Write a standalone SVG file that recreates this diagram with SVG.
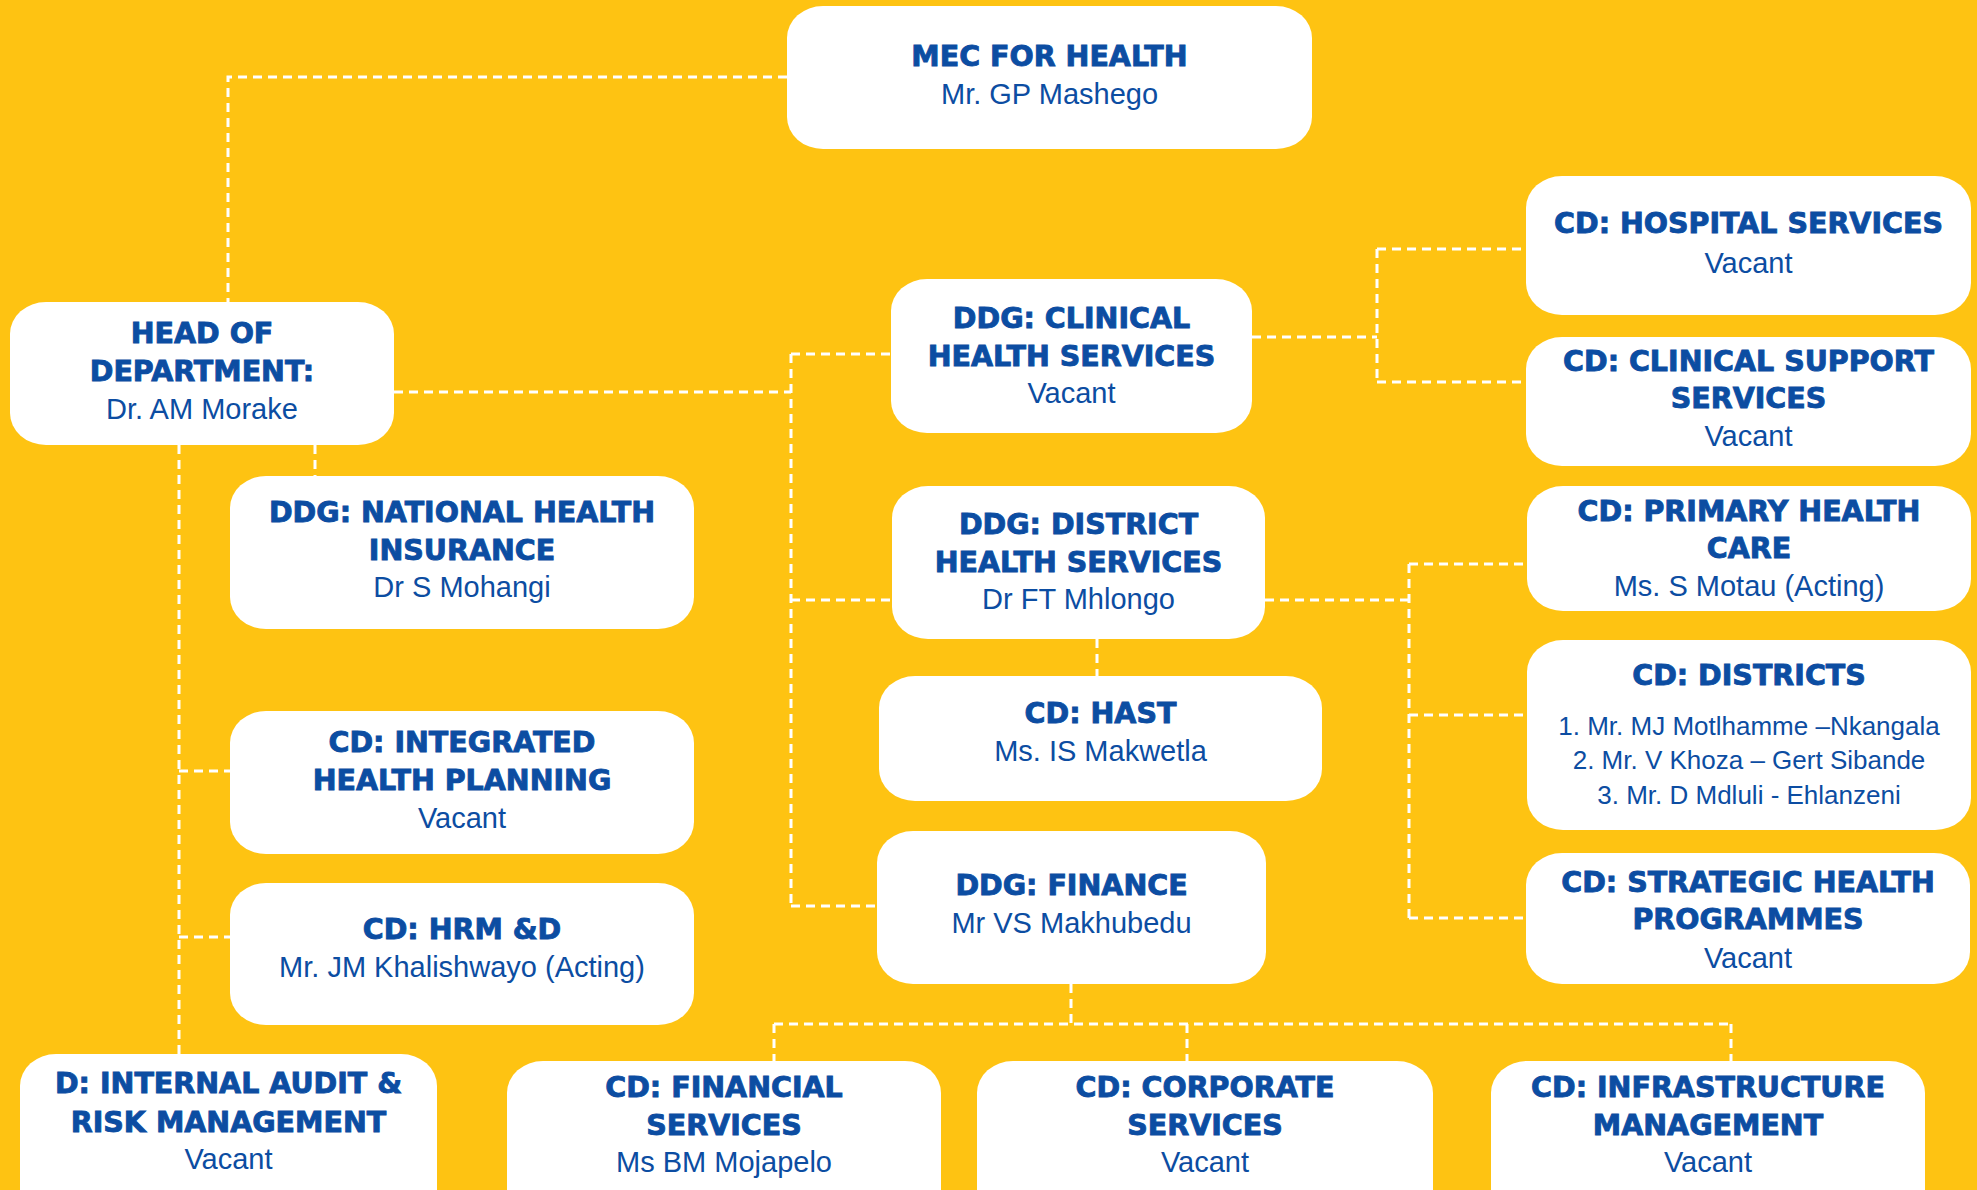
<svg xmlns="http://www.w3.org/2000/svg" width="1977" height="1190" viewBox="0 0 1977 1190">
  <style>
    .box { fill: #ffffff; }
    .title { font-family: "DejaVu Sans", "Liberation Sans", sans-serif; font-weight: bold; font-size: 28.5px; fill: #0C4DA2; stroke: #0C4DA2; stroke-width: 0.9px; text-anchor: middle; }
    .name { font-family: "Liberation Sans", Arial, sans-serif; font-size: 29px; fill: #0C4DA2; text-anchor: middle; }
    .list { font-family: "Liberation Sans", Arial, sans-serif; font-size: 26px; fill: #0C4DA2; text-anchor: middle; }
    .wire { fill: none; stroke: #ffffff; stroke-width: 3; stroke-dasharray: 9 6; }
  </style>

  <rect x="0" y="0" width="1977" height="1190" fill="#FEC312"/>

  <!-- dashed reporting lines -->
  <g id="connectors">
    <path class="wire" d="M787,77 H228 V302"/>
    <path class="wire" d="M394,392 H791"/>
    <path class="wire" d="M791,354 V906"/>
    <path class="wire" d="M791,354 H891"/>
    <path class="wire" d="M791,600 H892"/>
    <path class="wire" d="M791,906 H877"/>
    <path class="wire" d="M1252,337 H1377"/>
    <path class="wire" d="M1377,249 V382"/>
    <path class="wire" d="M1377,249 H1526"/>
    <path class="wire" d="M1377,382 H1526"/>
    <path class="wire" d="M315,445 V476"/>
    <path class="wire" d="M179,445 V1054"/>
    <path class="wire" d="M179,771 H230"/>
    <path class="wire" d="M179,937 H230"/>
    <path class="wire" d="M1097,639 V676"/>
    <path class="wire" d="M1265,600 H1409"/>
    <path class="wire" d="M1409,564 V918"/>
    <path class="wire" d="M1409,564 H1527"/>
    <path class="wire" d="M1409,715 H1527"/>
    <path class="wire" d="M1409,918 H1526"/>
    <path class="wire" d="M1071,984 V1024"/>
    <path class="wire" d="M774,1024 H1731"/>
    <path class="wire" d="M774,1024 V1061"/>
    <path class="wire" d="M1187,1024 V1061"/>
    <path class="wire" d="M1731,1024 V1061"/>
  </g>

  <g id="mec">
    <rect class="box" x="787" y="6" width="525" height="143" rx="36" ry="32"/>
    <text class="title" x="1049.5" y="66">MEC FOR HEALTH</text>
    <text class="name" x="1049.5" y="104">Mr. GP Mashego</text>
  </g>

  <g id="hod">
    <rect class="box" x="10" y="302" width="384" height="143" rx="36" ry="32"/>
    <text class="title" x="202" y="343">HEAD OF</text>
    <text class="title" x="202" y="381">DEPARTMENT:</text>
    <text class="name" x="202" y="419">Dr. AM Morake</text>
  </g>

  <g id="ddg-clinical">
    <rect class="box" x="891" y="279" width="361" height="154" rx="36" ry="32"/>
    <text class="title" x="1071.5" y="328">DDG: CLINICAL</text>
    <text class="title" x="1071.5" y="366">HEALTH SERVICES</text>
    <text class="name" x="1071.5" y="403">Vacant</text>
  </g>

  <g id="cd-hospital">
    <rect class="box" x="1526" y="176" width="445" height="139" rx="36" ry="32"/>
    <text class="title" x="1748.5" y="233">CD: HOSPITAL SERVICES</text>
    <text class="name" x="1748.5" y="273">Vacant</text>
  </g>

  <g id="cd-clinical-support">
    <rect class="box" x="1526" y="337" width="445" height="129" rx="36" ry="32"/>
    <text class="title" x="1748.5" y="371">CD: CLINICAL SUPPORT</text>
    <text class="title" x="1748.5" y="408">SERVICES</text>
    <text class="name" x="1748.5" y="446">Vacant</text>
  </g>

  <g id="ddg-nhi">
    <rect class="box" x="230" y="476" width="464" height="153" rx="36" ry="32"/>
    <text class="title" x="462" y="522">DDG: NATIONAL HEALTH</text>
    <text class="title" x="462" y="560">INSURANCE</text>
    <text class="name" x="462" y="597">Dr S Mohangi</text>
  </g>

  <g id="ddg-district">
    <rect class="box" x="892" y="486" width="373" height="153" rx="36" ry="32"/>
    <text class="title" x="1078.5" y="534">DDG: DISTRICT</text>
    <text class="title" x="1078.5" y="572">HEALTH SERVICES</text>
    <text class="name" x="1078.5" y="609">Dr FT Mhlongo</text>
  </g>

  <g id="cd-hast">
    <rect class="box" x="879" y="676" width="443" height="125" rx="36" ry="32"/>
    <text class="title" x="1100.5" y="723">CD: HAST</text>
    <text class="name" x="1100.5" y="761">Ms. IS Makwetla</text>
  </g>

  <g id="cd-phc">
    <rect class="box" x="1527" y="486" width="444" height="125" rx="36" ry="32"/>
    <text class="title" x="1749" y="521">CD: PRIMARY HEALTH</text>
    <text class="title" x="1749" y="558">CARE</text>
    <text class="name" x="1749" y="596">Ms. S Motau (Acting)</text>
  </g>

  <g id="cd-districts">
    <rect class="box" x="1527" y="640" width="444" height="190" rx="36" ry="32"/>
    <text class="title" x="1749" y="685">CD: DISTRICTS</text>
    <text class="list" x="1749" y="735">1. Mr. MJ Motlhamme –Nkangala</text>
    <text class="list" x="1749" y="769">2. Mr. V Khoza – Gert Sibande</text>
    <text class="list" x="1749" y="804">3. Mr. D Mdluli - Ehlanzeni</text>
  </g>

  <g id="cd-integrated">
    <rect class="box" x="230" y="711" width="464" height="143" rx="36" ry="32"/>
    <text class="title" x="462" y="752">CD: INTEGRATED</text>
    <text class="title" x="462" y="790">HEALTH PLANNING</text>
    <text class="name" x="462" y="828">Vacant</text>
  </g>

  <g id="cd-hrm">
    <rect class="box" x="230" y="883" width="464" height="142" rx="36" ry="32"/>
    <text class="title" x="462" y="939">CD: HRM &amp;D</text>
    <text class="name" x="462" y="977">Mr. JM Khalishwayo (Acting)</text>
  </g>

  <g id="ddg-finance">
    <rect class="box" x="877" y="831" width="389" height="153" rx="36" ry="32"/>
    <text class="title" x="1071.5" y="895">DDG: FINANCE</text>
    <text class="name" x="1071.5" y="933">Mr VS Makhubedu</text>
  </g>

  <g id="cd-strategic">
    <rect class="box" x="1526" y="853" width="444" height="131" rx="36" ry="32"/>
    <text class="title" x="1748" y="892">CD: STRATEGIC HEALTH</text>
    <text class="title" x="1748" y="929">PROGRAMMES</text>
    <text class="name" x="1748" y="968">Vacant</text>
  </g>

  <g id="d-internal-audit">
    <rect class="box" x="20" y="1054" width="417" height="170" rx="36" ry="32"/>
    <text class="title" x="228.5" y="1093">D: INTERNAL AUDIT &amp;</text>
    <text class="title" x="228.5" y="1132">RISK MANAGEMENT</text>
    <text class="name" x="228.5" y="1169">Vacant</text>
  </g>

  <g id="cd-financial">
    <rect class="box" x="507" y="1061" width="434" height="170" rx="36" ry="32"/>
    <text class="title" x="724" y="1097">CD: FINANCIAL</text>
    <text class="title" x="724" y="1135">SERVICES</text>
    <text class="name" x="724" y="1172">Ms BM Mojapelo</text>
  </g>

  <g id="cd-corporate">
    <rect class="box" x="977" y="1061" width="456" height="170" rx="36" ry="32"/>
    <text class="title" x="1205" y="1097">CD: CORPORATE</text>
    <text class="title" x="1205" y="1135">SERVICES</text>
    <text class="name" x="1205" y="1172">Vacant</text>
  </g>

  <g id="cd-infrastructure">
    <rect class="box" x="1491" y="1061" width="434" height="170" rx="36" ry="32"/>
    <text class="title" x="1708" y="1097">CD: INFRASTRUCTURE</text>
    <text class="title" x="1708" y="1135">MANAGEMENT</text>
    <text class="name" x="1708" y="1172">Vacant</text>
  </g>
</svg>
